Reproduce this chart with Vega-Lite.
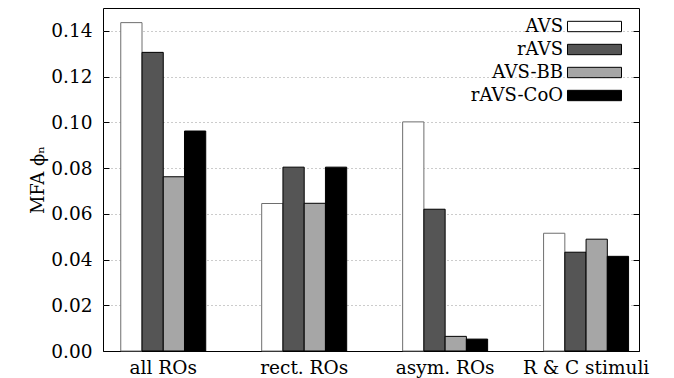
{
  "$schema": "https://vega.github.io/schema/vega-lite/v6.json",
  "width": 536,
  "height": 343,
  "autosize": "none",
  "padding": {"left": 103, "top": 8, "right": 35, "bottom": 27},
  "background": "white",
  "config": {
    "view": {"stroke": "black", "strokeWidth": 1},
    "font": "DejaVu Serif",
    "axis": {
      "labelFont": "DejaVu Serif",
      "titleFont": "DejaVu Serif",
      "labelFontSize": 18.5,
      "titleFontSize": 18,
      "titleFontWeight": "normal",
      "labelColor": "black",
      "titleColor": "black"
    },
    "legend": {
      "labelFont": "DejaVu Serif",
      "labelFontSize": 18,
      "labelColor": "black"
    }
  },
  "data": {
    "values": [
      {"group": "all ROs", "series": "AVS", "value": 0.1436},
      {"group": "all ROs", "series": "rAVS", "value": 0.1306},
      {"group": "all ROs", "series": "AVS-BB", "value": 0.0762},
      {"group": "all ROs", "series": "rAVS-CoO", "value": 0.0962},
      {"group": "rect. ROs", "series": "AVS", "value": 0.0645},
      {"group": "rect. ROs", "series": "rAVS", "value": 0.0804},
      {"group": "rect. ROs", "series": "AVS-BB", "value": 0.0646},
      {"group": "rect. ROs", "series": "rAVS-CoO", "value": 0.0804},
      {"group": "asym. ROs", "series": "AVS", "value": 0.1002},
      {"group": "asym. ROs", "series": "rAVS", "value": 0.0620},
      {"group": "asym. ROs", "series": "AVS-BB", "value": 0.0064},
      {"group": "asym. ROs", "series": "rAVS-CoO", "value": 0.0052},
      {"group": "R & C stimuli", "series": "AVS", "value": 0.0515},
      {"group": "R & C stimuli", "series": "rAVS", "value": 0.0432},
      {"group": "R & C stimuli", "series": "AVS-BB", "value": 0.0489},
      {"group": "R & C stimuli", "series": "rAVS-CoO", "value": 0.0414}
    ]
  },
  "layer": [
    {
      "mark": {"type": "bar", "strokeWidth": 1},
      "encoding": {
        "x": {
          "field": "group",
          "type": "nominal",
          "sort": ["all ROs", "rect. ROs", "asym. ROs", "R & C stimuli"],
          "scale": {"paddingInner": 0.397, "paddingOuter": 0.1, "align": 0.63},
          "axis": {
            "title": null,
            "labelAngle": 0,
            "ticks": false,
            "domain": true,
            "domainColor": "black",
            "labelPadding": 7,
            "labelDx": 9
          }
        },
        "xOffset": {
          "field": "series",
          "type": "nominal",
          "sort": ["AVS", "rAVS", "AVS-BB", "rAVS-CoO"],
          "scale": {"paddingInner": 0, "paddingOuter": 0}
        },
        "y": {
          "field": "value",
          "type": "quantitative",
          "scale": {"domain": [0, 0.15], "nice": false},
          "axis": {
            "orient": "left",
            "title": "MFA ϕₙ",
            "values": [0, 0.02, 0.04, 0.06, 0.08, 0.1, 0.12, 0.14],
            "format": ".2f",
            "domain": false,
            "tickSize": -6,
            "tickColor": "black",
            "labelPadding": 17,
            "titlePadding": 3,
            "grid": true,
            "gridColor": "#999999",
            "gridDash": [1, 3],
            "gridWidth": 1,
            "labelFontSize": 18.5
          }
        },
        "fill": {
          "field": "series",
          "type": "nominal",
          "sort": ["AVS", "rAVS", "AVS-BB", "rAVS-CoO"],
          "scale": {"range": ["#ffffff", "#555555", "#a6a6a6", "#000000"]},
          "legend": {
            "orient": "none",
            "legendX": 480,
            "legendY": 7,
            "title": null,
            "padding": 0,
            "rowPadding": 2,
            "symbolType": "M-2.5,-0.48H2.5V0.48H-2.5Z",
            "symbolSize": 467,
            "symbolStrokeColor": "black",
            "symbolStrokeWidth": 1,
            "symbolOpacity": 1,
            "labelAlign": "right",
            "labelOffset": -43
          }
        },
        "stroke": {
          "field": "series",
          "type": "nominal",
          "sort": ["AVS", "rAVS", "AVS-BB", "rAVS-CoO"],
          "scale": {"range": ["#6e6e6e", "#000000", "#000000", "#000000"]},
          "legend": null
        }
      }
    },
    {
      "mark": {"type": "rule", "color": "transparent"},
      "encoding": {
        "y": {
          "field": "value",
          "type": "quantitative",
          "scale": {"domain": [0, 0.15], "nice": false},
          "axis": {
            "orient": "right",
            "title": null,
            "values": [0, 0.02, 0.04, 0.06, 0.08, 0.1, 0.12, 0.14],
            "labels": false,
            "domain": false,
            "tickSize": -6,
            "tickColor": "black",
            "grid": false
          }
        }
      }
    }
  ],
  "resolve": {"axis": {"y": "independent"}}
}
